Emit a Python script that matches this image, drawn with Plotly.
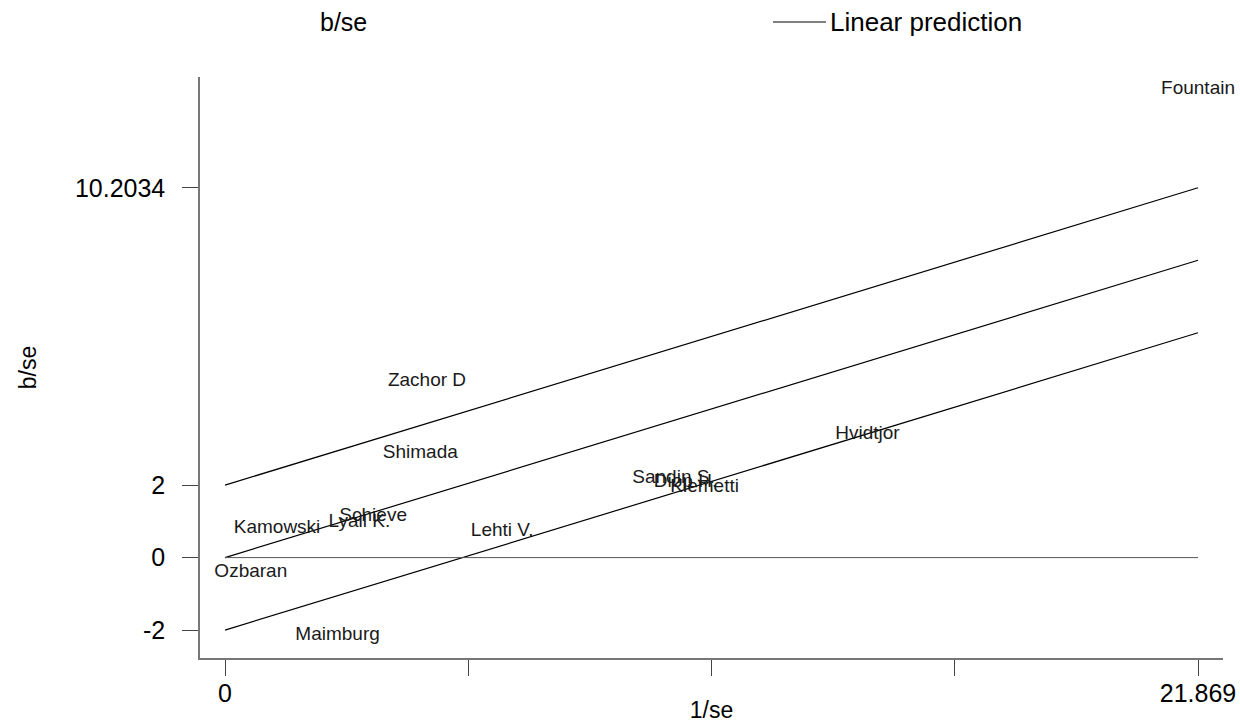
import plotly.graph_objects as go

# Study labels and their Galbraith coordinates (precision 1/se, standardised effect b/se)
studies = ["Zachor D", "Shimada", "Kamowski", "Lyall K.", "Schieve", "Lehti V.",
           "Ozbaran", "Maimburg", "Sandin S.", "Diop H.", "Klemetti", "Hvidtjor",
           "Fountain"]
inv_se = [4.54, 4.39, 1.17, 3.02, 3.33, 6.23, 0.58, 2.53, 10.08, 10.35, 10.78, 14.44, 21.869]
b_se = [4.86, 2.87, 0.80, 0.97, 1.13, 0.72, -0.41, -2.13, 2.18, 2.07, 1.93, 3.40, 12.93]

# Fitted line through the origin and the +/-2 bands, evaluated at 0 and max(1/se)
line_x = [0, 21.869]
fit_mid = [0, 8.2034]
fit_upper = [2, 10.2034]
fit_lower = [-2, 6.2034]
zero_ref = [0, 0]

# Axis ticks
x_ticks = [0, 5.46725, 10.9345, 16.40175, 21.869]
x_ticktext = ["0", "", "", "", "21.869"]
y_ticks = [-2, 0, 2, 10.2034]
y_ticktext = ["-2", "0", "2", "10.2034"]

FONT = "Arial, Liberation Sans, sans-serif"

fig = go.Figure()

for ys in (fit_upper, fit_mid, fit_lower):
    fig.add_trace(go.Scatter(x=line_x, y=ys, mode="lines",
                             line=dict(color="black", width=1.2),
                             showlegend=False, hoverinfo="skip"))

fig.add_trace(go.Scatter(x=line_x, y=zero_ref, mode="lines",
                         line=dict(color="#555555", width=1),
                         showlegend=False, hoverinfo="skip"))

fig.add_trace(go.Scatter(x=inv_se, y=b_se, mode="text", text=studies,
                         textposition="middle center", cliponaxis=False,
                         textfont=dict(family=FONT, size=19, color="#1a1a1a"),
                         showlegend=False))

# Legend row drawn along the top edge
LEG_Y = 1 + (77 - 22) / 581
fig.add_annotation(xref="paper", yref="paper", x=(343 - 200) / 1023, y=LEG_Y,
                   text="b/se", showarrow=False, xanchor="center", yanchor="middle",
                   font=dict(family=FONT, size=25, color="black"))
fig.add_shape(type="line", xref="paper", yref="paper",
              x0=(773 - 200) / 1023, x1=(826 - 200) / 1023, y0=LEG_Y, y1=LEG_Y,
              line=dict(color="black", width=1))
fig.add_annotation(xref="paper", yref="paper", x=(828 - 200) / 1023, y=LEG_Y,
                   text="Linear prediction", showarrow=False, xanchor="left", yanchor="middle",
                   font=dict(family=FONT, size=26, color="black"))

fig.update_layout(
    width=1240, height=723,
    margin=dict(l=200, r=17, t=77, b=65),
    paper_bgcolor="white", plot_bgcolor="white",
    font=dict(family=FONT, color="black"),
    showlegend=False,
)

fig.update_xaxes(
    range=[-0.562, 22.43], showgrid=False, zeroline=False, automargin=False,
    showline=True, linecolor="#777777", linewidth=1.5,
    tickmode="array", tickvals=x_ticks, ticktext=x_ticktext,
    ticks="outside", ticklen=16, tickcolor="#444444", tickwidth=1,
    tickfont=dict(family=FONT, size=25, color="black"),
    ticklabelstandoff=-4,
    title=dict(text="1/se", font=dict(family=FONT, size=23, color="black"), standoff=2),
)
fig.update_yaxes(
    range=[-2.77, 13.26], showgrid=False, zeroline=False, automargin=False,
    showline=True, linecolor="#777777", linewidth=1.5,
    tickmode="array", tickvals=y_ticks, ticktext=y_ticktext,
    ticks="outside", ticklen=16, tickcolor="#444444", tickwidth=1,
    tickfont=dict(family=FONT, size=25, color="black"),
    ticklabelstandoff=12,
    title=dict(text="b/se", font=dict(family=FONT, size=23, color="black"), standoff=32),
)

fig.write_html("out.html")
